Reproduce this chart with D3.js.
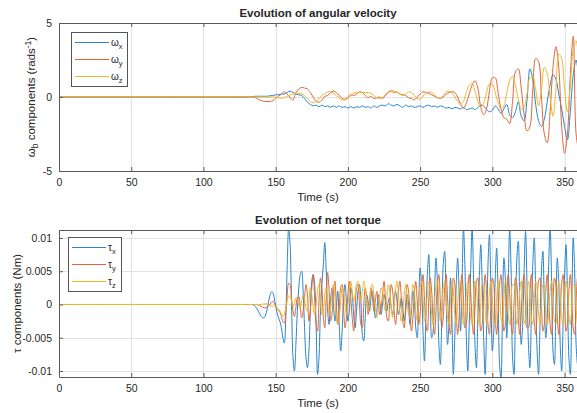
<!DOCTYPE html>
<html>
<head>
<meta charset="utf-8">
<script src="https://cdn.jsdelivr.net/npm/d3@7"></script>
<style>
  body { margin: 0; background: #fff; overflow: hidden; }
  text { font-family: "Liberation Sans", Arial, Helvetica, sans-serif; fill: #262626; }
</style>
</head>
<body>
<div id="container"></div>
<script>
/* DATA */
// angular velocity samples: t = 0, then 130..360 every 2 s (rad/s)
const omegaTime = [0, ...d3.range(130, 361, 2)]
const omegaX = [0,
  0, 0, 0.02, 0.05, 0.05, 0.05, 0.05, 0.05, 0.08, 0.1,
  0.15, 0.15, 0.2, 0.2, 0.3, 0.4, 0.3, 0.2, 0.15, 0.1,
  -0.1, -0.35, -0.5, -0.6, -0.55, -0.65, -0.55, -0.65, -0.6, -0.7,
  -0.6, -0.7, -0.6, -0.7, -0.65, -0.75, -0.65, -0.75, -0.65, -0.7,
  -0.6, -0.7, -0.65, -0.75, -0.6, -0.7, -0.6, -0.55, -0.6, -0.45,
  -0.55, -0.6, -0.5, -0.6, -0.7, -0.55, -0.65, -0.6, -0.7, -0.65,
  -0.6, -0.7, -0.6, -0.55, -0.65, -0.6, -0.7, -0.6, -0.65, -0.75,
  -0.7, -0.8, -0.7, -0.75, -0.8, -0.7, -0.85, -0.8, -0.75, -0.85,
  -0.7, -0.55, -0.6, -0.85, -1.0, -0.9, -0.6, -0.8, -1.1, -0.8,
  -0.5, -1.2, -1.4, -1.0, -0.3, -1.3, -1.6, -0.2, 1.9, 1.2,
  -0.5, -1.6, -2.0, -1.5, -0.3, 0.8, 1.5, 1.2, 0.2, -0.8,
  -2.0, -2.9, -1.0, 1.5, 2.5, 1.0]
const omegaY = [0,
  0, 0, 0, -0.05, -0.15, -0.25, -0.3, -0.3, -0.3, -0.25,
  -0.1, 0.05, 0.2, 0.35, 0.2, -0.05, -0.2, 0.3, 0.55, 0.65,
  0.6, 0.55, 0.3, 0.0, -0.3, -0.35, -0.2, 0.05, 0.1, 0.3,
  0.4, 0.3, 0.1, -0.1, -0.15, 0.0, 0.15, 0.1, 0.2, 0.35,
  0.3, 0.1, -0.05, 0.05, -0.1, -0.05, 0.0, -0.1, 0.1, 0.3,
  0.4, 0.3, 0.35, 0.2, 0.15, 0.1, -0.05, -0.1, -0.2, 0.0,
  0.2, 0.35, 0.3, 0.25, 0.15, 0.05, -0.05, -0.1, 0.0, 0.2,
  0.3, 0.35, 0.3, 0.0, -0.5, -0.75, -0.4, 0.2, 0.8, 1.1,
  0.6, -0.7, -1.2, -0.8, 0.4, 1.3, 1.3, 0.3, -0.8, -1.4,
  -1.5, -1.8, -0.3, 1.7, 1.9, 0.6, -1.2, -2.3, -2.0, 0.5,
  2.6, 2.4, 0.0, -2.5, -3.1, -1.0, 2.0, 3.4, 2.0, -2.0,
  -3.8, -2.5, 1.5, 4.1, -2.5, -3.8]
const omegaZ = [0,
  0, 0, 0, 0, 0, 0, 0, 0, 0, 0,
  0, -0.05, -0.1, -0.05, 0.05, 0.15, 0.2, 0.25, 0.25, 0.2,
  0.1, -0.1, -0.3, -0.4, -0.3, -0.1, 0.1, 0.25, 0.35, 0.35,
  0.25, 0.1, -0.1, -0.2, -0.2, -0.1, 0.1, 0.25, 0.3, 0.3,
  0.3, 0.3, 0.3, 0.25, 0.1, -0.05, -0.1, 0.0, 0.15, 0.35,
  0.45, 0.4, 0.3, 0.2, 0.1, 0.2, 0.35, 0.3, 0.1, -0.1,
  -0.15, 0.05, 0.25, 0.35, 0.3, 0.15, -0.05, -0.1, 0.1, 0.35,
  0.4, 0.3, 0.0, -0.3, -0.5, -0.3, 0.3, 0.8, 0.9, 0.4,
  -0.3, -0.7, -0.4, 0.3, 0.9, 0.9, 0.3, -0.4, -0.8, -0.6,
  0.3, 1.1, 1.4, 0.8, -0.2, -0.8, -0.7, 0.2, 1.3, 1.4,
  0.5, -0.6, 0.5, 2.0, 1.6, 0.0, -1.3, 0.5, 2.9, 2.6,
  0.5, -1.0, 0.8, 3.2, 3.8, 2.0]

// net torque samples: t = 0, then 130..360 every 1 s (values in 10^-3 Nm)
const tauTime = [0, ...d3.range(130, 361, 1)]
const tauX = [0,
  0, 0, 0, 0, 0, -0.1, -0.3, -0.6, -1.0, -1.4,
  -1.8, -2.0, -2.0, -1.6, -0.8, 0.3, 1.3, 1.9, 1.8, 1.0,
  -0.2, -1.3, -2.0, -2.6, -3.5, -5.0, -5.8, -2.0, 6.0, 11.5,
  9.0, 0.0, -8.0, -10.0, -6.0, -1.0, 2.5, 4.5, 5.0, 2.0,
  -3.5, -8.0, -9.5, -7.0, -1.0, 3.5, 4.5, 3.0, -3.0, -10.5,
  -8.0, -1.0, 3.0, 6.0, 9.3, 5.0, -1.0, -3.0, 0.5, 2.5,
  0.0, -2.5, -0.5, 2.0, -3.0, -7.0, -4.0, 1.0, 3.0, 0.5,
  -2.5, -1.0, 2.5, 1.5, -1.5, -3.5, -1.0, 2.0, 3.0, 0.5,
  -4.5, -5.5, -2.0, 1.5, 0.5, -1.0, 1.0, 2.0, 0.0, -2.0,
  -1.0, 1.5, 0.5, -1.5, 0.0, 1.5, 0.5, -1.0, 0.5, 1.0,
  -0.5, -1.5, 0.5, 2.0, 0.5, -1.5, -0.5, 1.0, -0.5, -2.5,
  -1.0, 1.5, 0.0, -3.0, -1.0, 2.0, 0.5, -3.5, -5.0, 0.0,
  5.5, 3.0, -4.0, -8.5, -2.0, 4.5, 7.5, 1.0, -5.0, -4.0,
  2.0, 7.0, 3.0, -6.0, -9.0, -2.0, 6.0, 8.0, 1.0, -6.0,
  -3.0, 4.0, -2.0, -10.5, -5.0, 3.0, 7.0, 2.0, -4.0, 3.0,
  11.5, 6.0, -5.0, -10.0, -3.0, 5.0, 11.5, 4.0, -6.0, -9.5,
  -2.0, 4.0, 9.0, 3.0, -5.0, -10.5, -4.0, 6.0, 10.5, 2.0,
  -7.0, -4.0, 4.0, 8.5, 1.0, -9.0, -11.0, -2.0, 7.0, 4.0,
  -5.0, 3.0, 11.5, 5.0, -8.0, -10.5, -1.0, 7.0, 9.5, 0.0,
  -6.0, -3.0, 5.0, 11.0, 3.0, -6.0, -9.5, -2.0, 6.0, 10.0,
  2.0, -7.0, -10.5, -3.0, 5.0, 8.0, 0.0, -5.0, -2.0, 6.0,
  11.5, 4.0, -7.0, -9.0, 0.0, 7.0, 3.0, -6.0, -10.0, -3.0,
  4.5, 9.0, 2.0, -8.0, -10.5, 0.0, 10.0, 5.0, -6.0, -9.0,
  2.0]
const tauY = [0,
  0, 0, 0, 0, 0, 0, 0, 0, -0.1, -0.2,
  -0.3, -0.4, -0.5, -0.5, -0.4, -0.2, 0.0, 0.3, 0.5, 0.3,
  -0.2, -0.6, -0.9, -1.2, -1.8, -2.6, -2.8, -1.0, 1.5, 3.2,
  3.0, 1.0, -1.0, -1.8, -0.5, 1.0, 1.2, -0.5, -2.0, -1.0,
  1.0, 3.0, 1.5, -2.5, -1.0, 2.5, 4.5, 1.0, -3.0, -4.0,
  0.5, 4.0, 2.5, -2.0, -3.5, 1.0, 4.8, 2.0, -2.5, -1.5,
  2.0, 3.5, 0.0, -3.0, -1.0, 2.5, 3.0, -0.5, -3.5, -2.0,
  1.5, 3.5, 1.0, -2.0, -4.0, -1.0, 2.5, 3.0, 0.0, -3.0,
  -3.5, 0.0, 2.5, 1.0, -1.5, 0.5, 2.5, 1.0, -1.0, 0.5,
  2.0, 0.5, -1.5, -0.5, 1.5, 3.5, 1.0, -2.0, -2.5, 0.5,
  3.0, 2.0, -1.0, -3.0, -1.0, 2.0, 3.5, 1.0, -2.5, -3.5,
  0.0, 3.0, 2.0, -1.5, -4.0, -2.0, 1.5, 3.5, 0.5, -3.0,
  -1.5, 2.5, 4.5, 1.0, -3.0, -4.0, 0.5, 4.0, 2.0, -2.5,
  -4.5, -1.0, 3.0, 4.5, 0.5, -3.5, -2.0, 2.5, 4.5, 1.0,
  -3.0, -4.5, 0.0, 4.0, 3.0, -1.5, -4.5, -2.0, 2.5, 4.5,
  1.0, -3.5, -3.0, 1.5, 4.5, 2.0, -2.5, -4.5, -0.5, 3.5,
  4.0, 0.0, -4.0, -3.0, 1.5, 4.5, 2.0, -3.0, -4.5, 0.0,
  4.0, 3.0, -2.0, -4.5, -1.0, 3.0, 4.5, 0.5, -4.0, -3.0,
  2.0, 4.5, 1.5, -3.0, -4.5, 0.0, 4.0, 3.0, -2.0, -4.5,
  -1.5, 3.0, 4.5, 0.5, -3.5, -3.5, 1.5, 4.5, 2.0, -2.5,
  -4.5, -0.5, 3.5, 4.0, 0.0, -4.0, -3.0, 2.0, 4.5, 1.5,
  -3.0, -4.5, 0.0, 4.0, 3.0, -2.0, -4.5, -1.0, 3.0, 4.5,
  0.5, -4.0, -3.0, 2.0, 4.5, 1.0, -3.5, -4.5, 0.5, 4.0,
  2.0]
const tauZ = [0,
  0, 0, 0, 0, 0, 0, 0, 0, 0, 0,
  0, 0.05, 0.1, 0.1, 0.1, 0.0, -0.2, -0.3, -0.3, -0.2,
  -0.3, -0.5, -0.7, -1.0, -1.4, -1.8, -1.5, -0.5, 0.5, 1.3,
  1.2, 0.5, -0.3, 0.2, 1.0, 0.8, -0.2, -0.5, 0.5, 1.5,
  0.8, -0.5, -1.0, 0.5, 2.5, 1.5, -0.5, -1.5, 0.0, 2.0,
  3.0, 1.0, -1.5, -1.0, 1.5, 2.5, 0.5, -1.5, -0.5, 2.0,
  3.0, 1.0, -2.0, -3.0, -2.0, 0.5, 2.5, 2.0, 0.0, -1.5,
  0.0, 2.0, 3.5, 2.0, 0.5, 1.5, 3.0, 3.5, 2.0, 0.5,
  2.0, 3.5, 2.5, 0.5, -1.0, 0.5, 2.5, 3.0, 1.5, -0.5,
  -2.0, -1.0, 1.0, 2.5, 2.0, 0.0, -1.0, 1.0, 3.0, 2.0,
  -0.5, -2.0, 0.0, 2.5, 3.5, 1.5, -1.0, -2.5, -1.0, 1.5,
  3.0, 1.0, -1.5, -2.0, 0.5, 3.0, 2.0, -1.0, -2.5, 0.0,
  2.5, 3.5, 1.0, -2.5, -1.5, 1.5, 3.5, 2.0, -1.5, -3.0,
  0.0, 3.0, 3.5, 0.0, -2.5, -1.0, 2.5, 3.5, 0.5, -2.0,
  -3.0, 0.5, 3.5, 2.0, -1.5, -3.0, 0.0, 3.0, 3.5, 0.0,
  -3.0, -2.0, 1.5, 3.5, 1.5, -2.0, -3.0, 0.5, 3.5, 2.5,
  -1.5, -3.0, 0.0, 3.0, 3.0, -0.5, -3.0, -1.5, 2.0, 3.5,
  1.0, -2.5, -3.0, 1.0, 3.5, 2.0, -2.0, -3.0, 0.5, 3.5,
  2.5, -1.5, -3.0, 0.0, 3.0, 3.0, -0.5, -3.0, -1.5, 2.0,
  3.5, 1.0, -2.5, -3.0, 1.0, 3.5, 2.0, -2.0, -3.0, 0.5,
  3.5, 2.5, -1.5, -3.0, 0.0, 3.0, 3.0, -0.5, -3.0, -1.5,
  2.0, 3.5, 1.0, -2.5, -3.0, 1.0, 3.5, 2.0, -2.0, -3.0,
  0.5, 3.5, 2.5, -1.5, -3.0, 0.0, 3.0, 3.0, -0.5, -3.0,
  -1.0]

const xTicks = [0, 50, 100, 150, 200, 250, 300, 350]
const omegaTicks = [-5, 0, 5]
const tauTicks = [-0.01, -0.005, 0, 0.005, 0.01]
const colors = ["#2a86cc", "#e0663a", "#efb82c"]

/* LAYOUT */
const width = 577, height = 413
const left = 59, right = 579

const svg = d3.select("#container")
  .append("svg")
    .attr("width", width)
    .attr("height", height)

const xScale = d3.scaleLinear().domain([0, 360]).range([left, right])

function drawPanel(p) {
  const yScale = d3.scaleLinear().domain(p.yDomain).range([p.bottom, p.top])
  const g = svg.append("g")

  g.append("clipPath").attr("id", p.id)
    .append("rect")
    .attr("x", left).attr("y", p.top)
    .attr("width", right - left).attr("height", p.bottom - p.top)

  // grid
  g.append("g").selectAll("line").data(xTicks).join("line")
    .attr("x1", d => Math.round(xScale(d)) + 0.5).attr("x2", d => Math.round(xScale(d)) + 0.5)
    .attr("y1", p.top).attr("y2", p.bottom)
    .attr("stroke", "#e2e2e2")
  g.append("g").selectAll("line").data(p.yTicks).join("line")
    .attr("y1", d => Math.round(yScale(d)) + 0.5).attr("y2", d => Math.round(yScale(d)) + 0.5)
    .attr("x1", left).attr("x2", right)
    .attr("stroke", "#e2e2e2")

  // series
  const line = d3.line()
    .x(d => xScale(d.t))
    .y(d => yScale(d.v))
    .curve(d3.curveCatmullRom)
  const plot = g.append("g").attr("clip-path", `url(#${p.id})`)
  p.series.forEach((s, i) => {
    const pts = p.time.map((t, k) => ({t: t, v: s[k] * p.unit}))
    plot.append("path")
      .attr("d", line(pts))
      .attr("fill", "none")
      .attr("stroke", colors[i])
      .attr("stroke-width", 1)
  })

  // axes (inward ticks, box)
  const xAxis = d3.axisBottom(xScale).tickValues(xTicks).tickSizeInner(-4).tickSizeOuter(0).tickPadding(8)
  const xg = g.append("g").attr("transform", `translate(0,${p.bottom})`).call(xAxis)
  const xTop = g.append("g").attr("transform", `translate(0,${p.top})`)
    .call(d3.axisTop(xScale).tickValues(xTicks).tickSizeInner(-4).tickSizeOuter(0).tickFormat(""))
  const yAxis = d3.axisLeft(yScale).tickValues(p.yTicks).tickSizeInner(-4).tickSizeOuter(0).tickPadding(7)
    .tickFormat(p.yFormat)
  const yg = g.append("g").attr("transform", `translate(${left},0)`).call(yAxis)
  ;[xg, xTop, yg].forEach(a => {
    a.select(".domain").attr("stroke", "#5a5a5a")
    a.selectAll(".tick line").attr("stroke", "#5a5a5a")
    a.selectAll("text").attr("font-size", 10.5).attr("fill", "#333")
      .attr("font-family", '"Liberation Sans", Arial, sans-serif')
  })

  // title
  g.append("text")
    .attr("x", (left + right) / 2 - 1).attr("y", p.top - 6)
    .attr("text-anchor", "middle").attr("font-weight", "bold").attr("font-size", 11.5)
    .attr("fill", "#111")
    .text(p.title)

  // x label
  g.append("text")
    .attr("x", (left + right) / 2 - 1).attr("y", p.bottom + 30)
    .attr("text-anchor", "middle").attr("font-size", 11.5)
    .text("Time (s)")

  // y label
  const yl = g.append("text")
    .attr("transform", `translate(${p.yLabelX},${(p.top + p.bottom) / 2}) rotate(-90)`)
    .attr("text-anchor", "middle").attr("font-size", 11.5)
  p.yLabel(yl)

  // legend
  const lg = g.append("g").attr("transform", `translate(${p.legend.x},${p.legend.y})`)
  lg.append("rect")
    .attr("x", 0.5).attr("y", 0.5).attr("width", p.legend.w).attr("height", 54)
    .attr("fill", "#fff").attr("stroke", "#555")
  p.legend.labels.forEach((lab, i) => {
    const yy = 10.5 + i * 17
    lg.append("line")
      .attr("x1", 4).attr("x2", 38).attr("y1", yy).attr("y2", yy)
      .attr("stroke", colors[i]).attr("stroke-width", 1)
    const t = lg.append("text").attr("x", 40).attr("y", yy + 3).attr("font-size", 10)
    t.append("tspan").text(p.legend.symbol)
    t.append("tspan").attr("dy", 3).attr("font-size", 7.5).text(lab)
  })
}

drawPanel({
  id: "clipOmega", top: 23, bottom: 171, yDomain: [-5, 5], yTicks: omegaTicks,
  yFormat: d => String(d), time: omegaTime, series: [omegaX, omegaY, omegaZ], unit: 1,
  title: "Evolution of angular velocity", yLabelX: 35,
  yLabel: t => {
    t.append("tspan").text("ω")
    t.append("tspan").attr("dy", 3).attr("font-size", 8.5).text("b")
    t.append("tspan").attr("dy", -3).text(" components (rads")
    t.append("tspan").attr("dy", -4).attr("font-size", 8.5).text("-1")
    t.append("tspan").attr("dy", 4).text(")")
  },
  legend: {x: 71, y: 32, w: 56, symbol: "ω", labels: ["x", "y", "z"]}
})

drawPanel({
  id: "clipTau", top: 230, bottom: 377, yDomain: [-0.0109, 0.0112], yTicks: tauTicks,
  yFormat: d => d === 0 ? "0" : String(+d.toFixed(3)), time: tauTime, series: [tauX, tauY, tauZ], unit: 0.001,
  title: "Evolution of net torque", yLabelX: 21,
  yLabel: t => t.text("τ components (Nm)"),
  legend: {x: 68, y: 237, w: 53, symbol: "τ", labels: ["x", "y", "z"]}
})
</script>
</body>
</html>
